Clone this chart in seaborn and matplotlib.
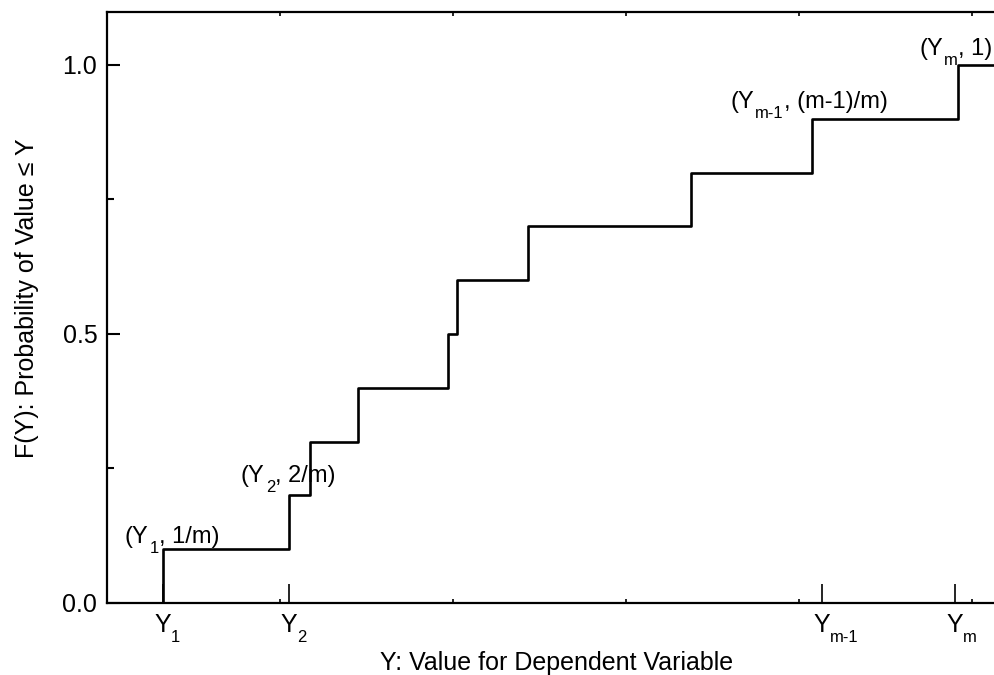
import matplotlib
matplotlib.use("Agg")
import matplotlib.pyplot as plt
import seaborn as sns
import pandas as pd

# ---- data ----
step_x = [0.323, 1.051, 1.172, 1.449, 1.969, 2.021, 2.431, 3.378, 4.076, 4.919]
step_prob = [0.1, 0.2, 0.3, 0.4, 0.5, 0.6, 0.7, 0.8, 0.9, 1.0]
x_tick_pos = [0.323, 1.051, 4.134, 4.902]
x_tick_main = ["Y", "Y", "Y", "Y"]
x_tick_subs = ["1", "2", "m-1", "m"]
y_ticks = [0.0, 0.5, 1.0]
y_tick_labels = ["0.0", "0.5", "1.0"]
# annotation: (prefix, subscript, suffix, x, y)
annotations = [
    ("(Y", "1", ", 1/m)", 0.104, 0.112),
    ("(Y", "2", ", 2/m)", 0.774, 0.225),
    ("(Y", "m-1", ", (m-1)/m)", 3.603, 0.920),
    ("(Y", "m", ", 1)", 4.694, 1.0186),
]

sns.set_style("ticks")
plt.rcParams["font.family"] = ["Liberation Sans", "DejaVu Sans"]
plt.rcParams["text.color"] = "black"
plt.rcParams["axes.labelcolor"] = "black"
plt.rcParams["xtick.color"] = "black"
plt.rcParams["ytick.color"] = "black"
plt.rcParams["axes.edgecolor"] = "black"

FS = 18
FS_ANN = 17
FS_SUB = 12

xs = [step_x[0]] + step_x + [5.6]
ys = [0.0] + step_prob + [1.0]
df = pd.DataFrame({"x": xs, "y": ys})

fig = plt.figure(figsize=(9.95, 6.75), dpi=100)
ax = fig.add_axes([107 / 995, 1 - 603 / 675, 1 - 107 / 995 + 0.01, (603 - 12) / 675])

sns.lineplot(data=df, x="x", y="y", estimator=None, sort=False,
             drawstyle="steps-post", color="black", linewidth=1.9, ax=ax)

ax.set_xlim(0, (995 + 10 - 106) / 173.2)
ax.set_ylim(0, 1.0985)

ax.set_xticks(x_tick_pos)
ax.set_xticklabels(x_tick_main, fontsize=FS)
ax.set_xticks([1, 2, 3, 4, 5], minor=True)
ax.set_yticks(y_ticks)
ax.set_yticklabels(y_tick_labels, fontsize=FS)
ax.set_yticks([0.25, 0.75], minor=True)

ax.tick_params(axis="x", which="major", direction="in", length=14, width=1.2,
               pad=7, bottom=True, top=False)
ax.tick_params(axis="x", which="minor", direction="in", length=3, width=1.2,
               bottom=True, top=True)
ax.tick_params(axis="y", which="major", direction="in", length=9, width=1.5, pad=7)
ax.tick_params(axis="y", which="minor", direction="in", length=5, width=1.5)

for side in ["left", "bottom", "top"]:
    ax.spines[side].set_linewidth(1.6)
    ax.spines[side].set_color("black")
ax.spines["right"].set_visible(False)

renderer = fig.canvas.get_renderer()

# subscripts of x tick labels
for xp, sub in zip(x_tick_pos, x_tick_subs):
    ax.annotate(sub, xy=(xp, 0), xycoords=ax.get_xaxis_transform(),
                xytext=(8, -39), textcoords="offset pixels",
                fontsize=FS_SUB, ha="left", va="baseline", annotation_clip=False)

# annotations with lowered subscripts
for pre, sub, suf, x, y in annotations:
    t1 = ax.annotate(pre, xy=(x, y), xytext=(0, 0), textcoords="offset pixels",
                     fontsize=FS_ANN, ha="left", va="baseline", annotation_clip=False)
    w1 = t1.get_window_extent(renderer).width
    t2 = ax.annotate(sub, xy=(x, y), xytext=(w1 + 1, -10), textcoords="offset pixels",
                     fontsize=FS_SUB, ha="left", va="baseline", annotation_clip=False)
    w2 = t2.get_window_extent(renderer).width
    ax.annotate(suf, xy=(x, y), xytext=(w1 + w2 + 1, 0), textcoords="offset pixels",
                fontsize=FS_ANN, ha="left", va="baseline", annotation_clip=False)

ax.set_xlabel("Y: Value for Dependent Variable", fontsize=FS)
ax.set_ylabel("F(Y): Probability of Value \u2264 Y", fontsize=FS)
ax.xaxis.set_label_coords((557 - 107) / (995 - 107 + 10), -0.082)
ax.yaxis.set_label_coords(-(107 - 39) / (995 - 107 + 10), 0.515)

fig.savefig("out.png", dpi=100)
